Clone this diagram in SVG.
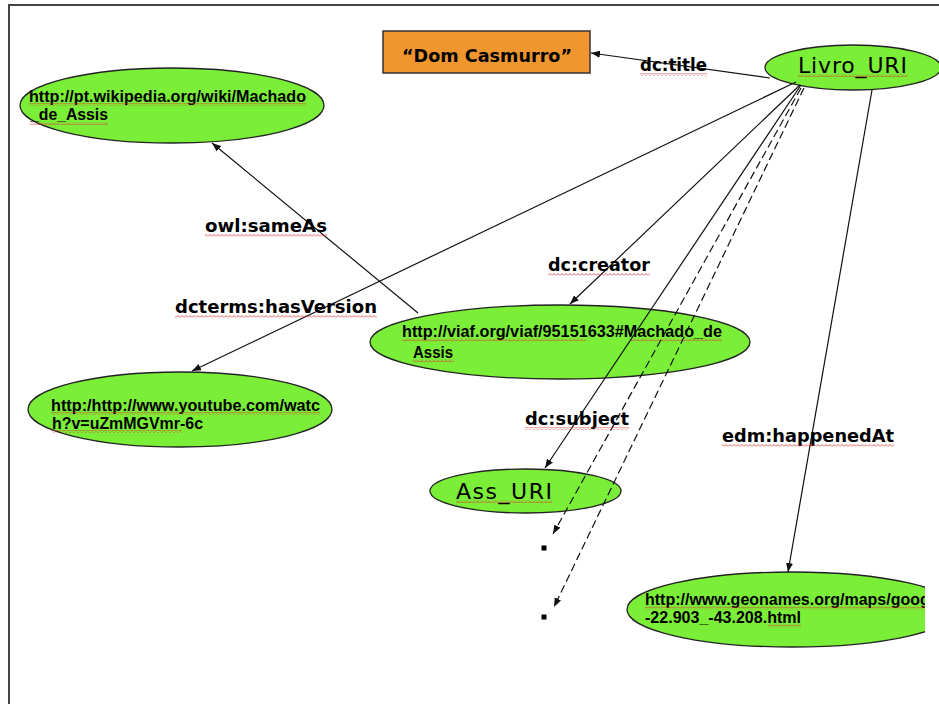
<svg xmlns="http://www.w3.org/2000/svg" width="939" height="704" viewBox="0 0 939 704">
<style>
.frame{fill:none;stroke:#444;stroke-width:2}
.ell{fill:#7BEE38;stroke:#222;stroke-width:1.3}
.box{fill:#F0962F;stroke:#333;stroke-width:1.5}
.url{font-family:"Liberation Sans",Arial,sans-serif;font-weight:bold;font-size:16px;fill:#000}
.lbl{font-family:"DejaVu Sans",Verdana,sans-serif;font-weight:bold;font-size:17px;fill:#000}
.big{font-family:"DejaVu Sans",Verdana,sans-serif;font-size:22px;fill:#000}
.ttl{font-family:"DejaVu Sans",Verdana,sans-serif;font-weight:bold;font-size:17px;fill:#000}
.edge{fill:none;stroke:#111;stroke-width:1.2}
.dash{fill:none;stroke:#111;stroke-width:1.2;stroke-dasharray:8 4}
.sq{fill:url(#squig)}
</style>
<defs>
<pattern id="squig" patternUnits="userSpaceOnUse" width="4" height="3">
<path d="M0,2.5 L2,0.5 L4,2.5" fill="none" stroke="#E03030" stroke-width="0.8"/>
</pattern>
<marker id="arr" markerWidth="10" markerHeight="8" refX="9" refY="4" orient="auto" markerUnits="userSpaceOnUse">
<path d="M0,0.5 L9,4 L0,7.5 Z" fill="#111"/>
</marker>
<clipPath id="geoClip"><rect x="0" y="0" width="925" height="704"/></clipPath>
</defs>
<rect width="939" height="704" fill="#fff"/>
<path class="frame" d="M9,704 L9,5 L939,5"/>

<g id="dom-casmurro">
<rect class="box" x="383" y="31" width="207" height="42"/>
<text class="ttl" x="402" y="62" textLength="170" lengthAdjust="spacingAndGlyphs">“Dom Casmurro”</text>
</g>

<g id="livro-uri">
<ellipse class="ell" cx="853" cy="67.5" rx="88" ry="22.5"/>
<text class="big" x="798" y="73" textLength="109" lengthAdjust="spacing">Livro_URI</text>
<rect class="sq" x="798" y="74" width="110" height="3"/>
</g>

<g id="wikipedia">
<ellipse class="ell" cx="172" cy="105.5" rx="152" ry="37.5"/>
<text class="url" x="29" y="102" textLength="277" lengthAdjust="spacingAndGlyphs">http://pt.wikipedia.org/wiki/Machado</text>
<text class="url" x="30" y="120" textLength="78" lengthAdjust="spacingAndGlyphs">_de_Assis</text>
<rect class="sq" x="29" y="103" width="277" height="3"/>
<rect class="sq" x="30" y="122" width="78" height="3"/>
</g>

<g id="viaf">
<ellipse class="ell" cx="560" cy="342" rx="190" ry="37"/>
<text class="url" x="402" y="337" textLength="320" lengthAdjust="spacingAndGlyphs">http://viaf.org/viaf/95151633#Machado_de</text>
<text class="url" x="413" y="358" textLength="40" lengthAdjust="spacingAndGlyphs">Assis</text>
<rect class="sq" x="402" y="338.5" width="184" height="3"/>
<rect class="sq" x="630" y="338.5" width="92" height="3"/>
<rect class="sq" x="413" y="359.5" width="41" height="3"/>
</g>

<g id="youtube">
<ellipse class="ell" cx="180" cy="409.5" rx="152" ry="37.5"/>
<text class="url" x="51" y="411" textLength="269" lengthAdjust="spacingAndGlyphs">http:/http://www.youtube.com/watc</text>
<text class="url" x="52" y="429" textLength="151" lengthAdjust="spacingAndGlyphs">h?v=uZmMGVmr-6c</text>
<rect class="sq" x="51" y="412" width="269" height="3"/>
<rect class="sq" x="52" y="430" width="130" height="3"/>
</g>

<g id="ass-uri">
<ellipse class="ell" cx="525.5" cy="491" rx="95.5" ry="22"/>
<text class="big" x="456" y="499" textLength="96" lengthAdjust="spacing">Ass_URI</text>
<rect class="sq" x="456" y="500" width="96" height="3"/>
</g>

<g id="geonames" clip-path="url(#geoClip)">
<ellipse class="ell" cx="792" cy="609.5" rx="165" ry="37.5"/>
<text class="url" x="645" y="605">http://www.geonames.org/maps/goog</text>
<text class="url" x="645" y="623" textLength="156" lengthAdjust="spacingAndGlyphs">-22.903_-43.208.html</text>
<rect class="sq" x="645" y="606.5" width="280" height="3"/>
<rect class="sq" x="768" y="624.5" width="33" height="3"/>
</g>

<g id="connectors">
<line class="edge" x1="770" y1="78" x2="591" y2="53" marker-end="url(#arr)"/>
<line class="edge" x1="796" y1="82" x2="192" y2="371" marker-end="url(#arr)"/>
<line class="edge" x1="800" y1="85" x2="570" y2="304" marker-end="url(#arr)"/>
<line class="edge" x1="801" y1="85" x2="545" y2="468" marker-end="url(#arr)"/>
<line class="dash" x1="801" y1="88" x2="553" y2="534" marker-end="url(#arr)"/>
<line class="dash" x1="804" y1="88" x2="554" y2="607" marker-end="url(#arr)"/>
<line class="edge" x1="872" y1="90" x2="788" y2="572" marker-end="url(#arr)"/>
<line class="edge" x1="418" y1="313" x2="212" y2="143" marker-end="url(#arr)"/>
<rect x="541.5" y="545.5" width="5" height="5" fill="#000"/>
<rect x="541.5" y="614.5" width="5" height="5" fill="#000"/>
</g>

<g id="labels">
<text class="lbl" x="640" y="71" textLength="67" lengthAdjust="spacingAndGlyphs">dc:title</text>
<rect class="sq" x="640" y="73" width="67" height="3"/>
<text class="lbl" x="205" y="232" textLength="122" lengthAdjust="spacingAndGlyphs">owl:sameAs</text>
<rect class="sq" x="205" y="234" width="122" height="3"/>
<text class="lbl" x="175" y="313" textLength="202" lengthAdjust="spacingAndGlyphs">dcterms:hasVersion</text>
<rect class="sq" x="175" y="315" width="202" height="3"/>
<text class="lbl" x="548" y="271" textLength="102" lengthAdjust="spacingAndGlyphs">dc:creator</text>
<rect class="sq" x="548" y="273" width="102" height="3"/>
<text class="lbl" x="525" y="425" textLength="104" lengthAdjust="spacingAndGlyphs">dc:subject</text>
<rect class="sq" x="525" y="427" width="104" height="3"/>
<text class="lbl" x="722" y="442" textLength="172" lengthAdjust="spacingAndGlyphs">edm:happenedAt</text>
<rect class="sq" x="722" y="444" width="172" height="3"/>
</g>
</svg>
